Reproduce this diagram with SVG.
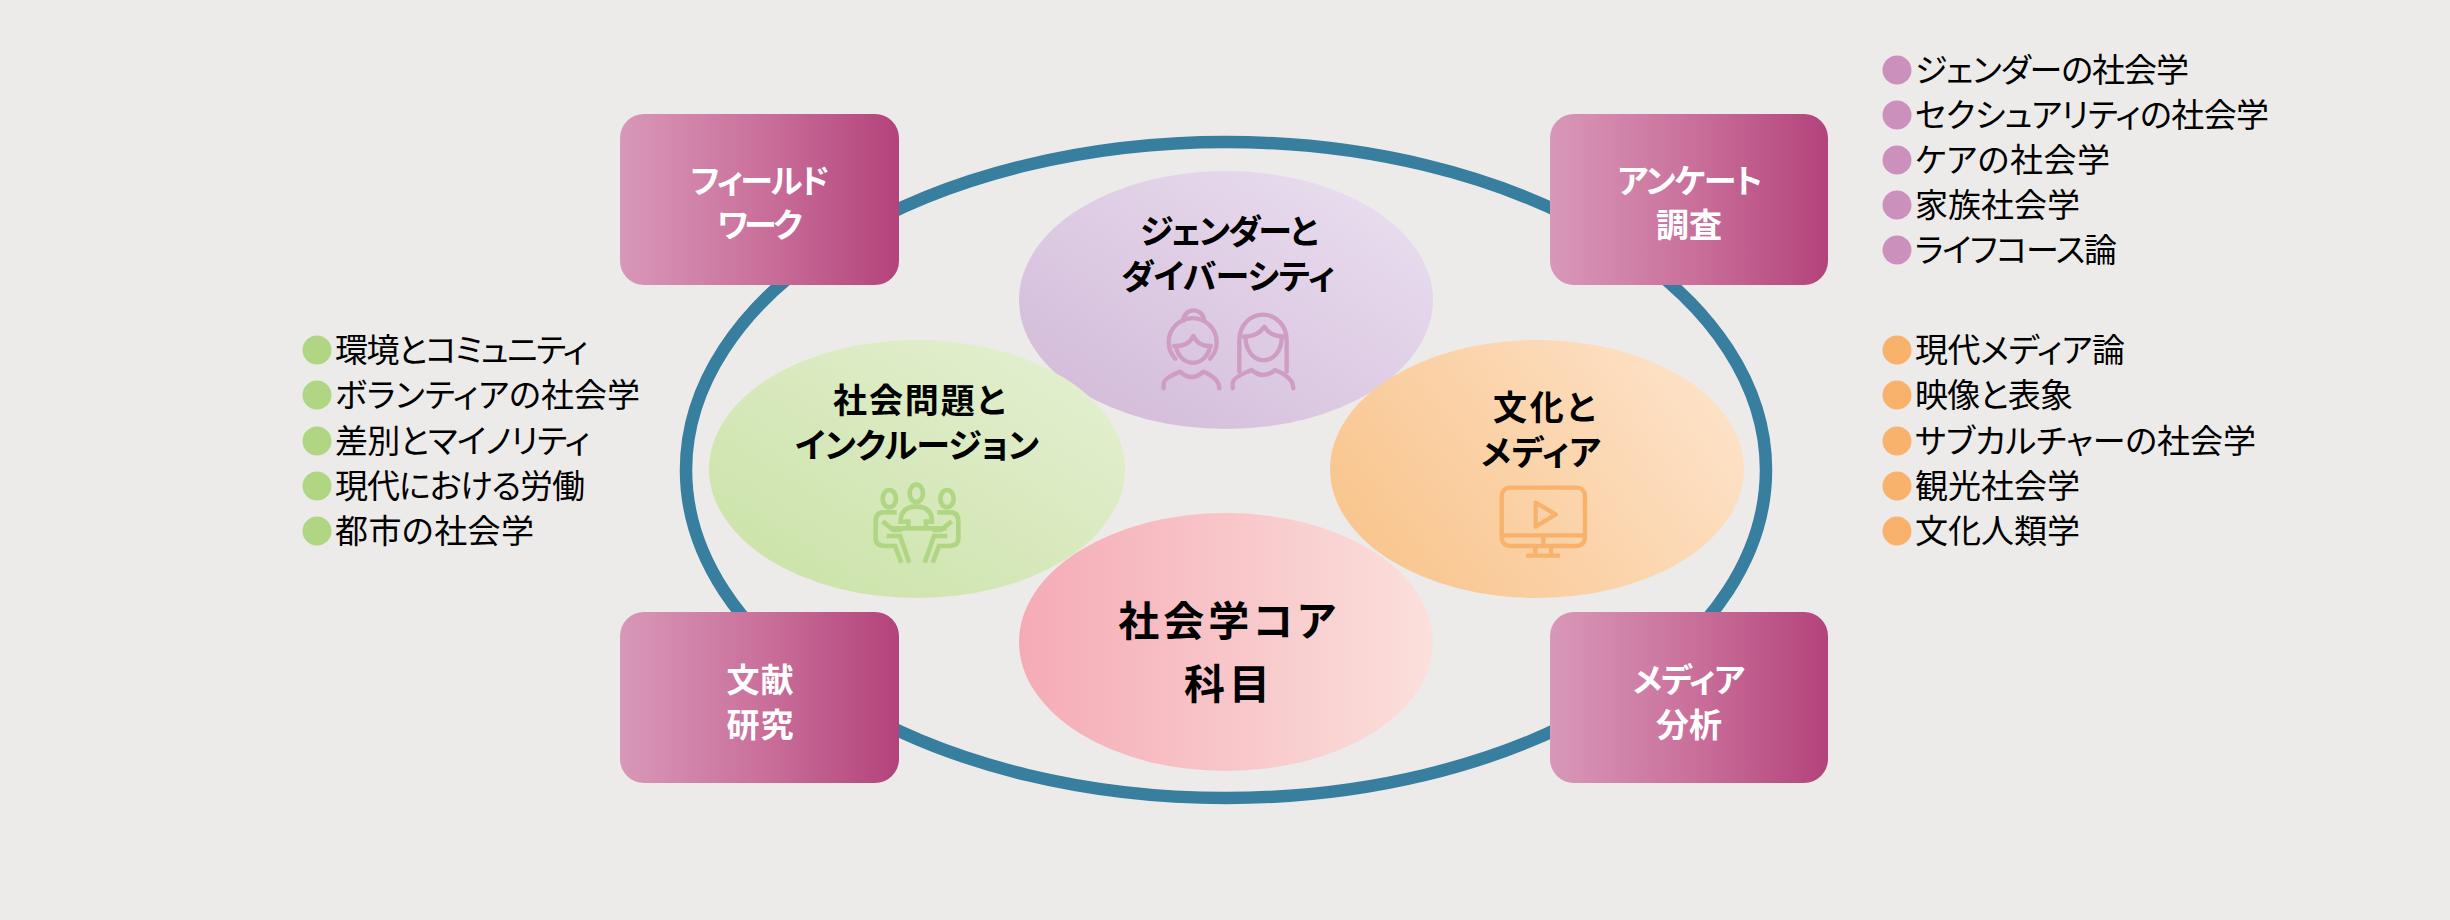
<svg xmlns="http://www.w3.org/2000/svg" width="2450" height="920" viewBox="0 0 2450 920">
<style>
text{font-family:"Noto Sans CJK JP","Noto Sans",sans-serif;font-feature-settings:"palt"}
.n{font-size:34px;font-weight:700;fill:#000;text-anchor:middle}
.c{font-size:41px;font-weight:700;fill:#000;text-anchor:middle;letter-spacing:4px}
.b{font-size:33px;font-weight:700;fill:#fff;text-anchor:middle}
.l{font-size:33px;font-weight:400;fill:#000}
.box{fill:url(#gb)}
.pu{fill:#cc90bd}.gr{fill:#b0d684}.or{fill:#f8b26b}
.ic{fill:none;stroke-width:13;stroke-linecap:round;stroke-linejoin:round}
</style>
<defs>
<linearGradient id="gb" x1="0" x2="1" y1="0" y2="0"><stop offset="0" stop-color="#d898b8"/><stop offset=".5" stop-color="#ca719b"/><stop offset="1" stop-color="#b3437b"/></linearGradient>
<linearGradient id="gt" x1="0.1" x2="0.9" y1="0.9" y2="0.1"><stop offset="0" stop-color="#d3bcd9"/><stop offset="1" stop-color="#e9ddef"/></linearGradient>
<linearGradient id="gl" x1="0.1" x2="0.9" y1="0.9" y2="0.1"><stop offset="0" stop-color="#cce3a9"/><stop offset="1" stop-color="#e3efd0"/></linearGradient>
<linearGradient id="gr" x1="0.05" x2="0.95" y1="0.7" y2="0.3"><stop offset="0" stop-color="#f9c68f"/><stop offset="1" stop-color="#fde1c6"/></linearGradient>
<linearGradient id="gc" x1="0" x2="1" y1="0" y2="0"><stop offset="0" stop-color="#f5abb6"/><stop offset="1" stop-color="#fbe0dc"/></linearGradient>
</defs>
<rect width="2450" height="920" fill="#ecebe9"/>
<g id="connectors"><ellipse cx="1226" cy="470" rx="540" ry="328" fill="none" stroke="#377e9f" stroke-width="12.500"/></g>
<g id="node-gender">
<ellipse cx="1226" cy="300" rx="207" ry="129" fill="url(#gt)"/>
<text class="n" x="1229" y="244" textLength="178">ジェンダーと</text><text class="n" x="1228" y="289" textLength="214">ダイバーシティ</text>
<g transform="translate(1100 200) scale(.3333)" class="ic" stroke="#cf9cc3">
<path d="M250 362A31 31 0 1 1 312 362"/>
<path d="M330 476A72 72 0 1 0 226 476"/>
<path d="M228 440A52 60 0 0 0 330 440"/>
<path d="M222 438Q265 440 280 408Q295 440 333 438"/>
<path d="M191 565V550Q191 535 240 515Q275 548 310 515Q358 535 358 565"/>
<path d="M418 515V420A71 76 0 0 1 560 420V515"/>
<path d="M437 415A54 66 0 0 0 545 415"/>
<path d="M430 410Q475 410 493 380Q510 410 555 410"/>
<path d="M398 565V550Q398 532 455 510Q490 540 525 510Q580 532 580 565"/>
</g></g>
<g id="node-society">
<ellipse cx="917" cy="469" rx="208" ry="129" fill="url(#gl)"/>
<text class="n" x="919" y="413" textLength="172">社会問題と</text><text class="n" x="917" y="458" textLength="244">インクルージョン</text>
<g transform="translate(840 450) scale(.3333)" fill="none" stroke="#b0d684" stroke-width="14">
<ellipse cx="148" cy="146" rx="20" ry="26"/><ellipse cx="229" cy="130" rx="20" ry="26"/><ellipse cx="321" cy="146" rx="20" ry="26"/>
<path d="M170 187H130Q107 187 107 215V265Q107 288 135 288H165L184 338"/>
<path d="M292 187H332Q355 187 355 215V265Q355 288 327 288H297L278 338"/>
<path d="M128 214L160 240H185"/><path d="M335 214L303 240H278"/>
<path d="M150 235H320"/>
<path d="M140 258H180L208 338"/><path d="M322 258H282L254 338"/>
<path d="M205 232V215H182Q182 170 229 170Q276 170 276 215H258V232"/>
</g></g>
<g id="node-culture">
<ellipse cx="1537" cy="469" rx="207" ry="129" fill="url(#gr)"/>
<text class="n" x="1544" y="420" textLength="102">文化と</text><text class="n" x="1541" y="465" textLength="120">メディア</text>
<g transform="translate(1440 460) scale(.3333)" fill="none" stroke="#f8b26b" stroke-width="13">
<rect x="185" y="83" width="250" height="175" rx="24"/>
<path d="M185 226H435M310 226V258M258 287H360M286 260V287M333 260V287"/>
<path d="M287 128L347 163L287 200Z" stroke-linejoin="round"/>
</g></g>
<g id="node-core">
<ellipse cx="1226" cy="642" rx="207" ry="129" fill="url(#gc)"/>
<text class="c" x="1229" y="636">社会学コア</text><text class="c" x="1229" y="699">科目</text>
</g>
<g id="box-field"><rect class="box" x="620" y="114" width="279" height="171" rx="24"/><text class="b" x="760" y="193" textLength="139">フィールド</text><text class="b" x="760" y="237" textLength="85">ワーク</text></g>
<g id="box-survey"><rect class="box" x="1550" y="114" width="278" height="171" rx="24"/><text class="b" x="1690" y="193" textLength="145">アンケート</text><text class="b" x="1689" y="237" textLength="66">調査</text></g>
<g id="box-literature"><rect class="box" x="620" y="612" width="279" height="171" rx="24"/><text class="b" x="760" y="692" textLength="67">文献</text><text class="b" x="760" y="737" textLength="67">研究</text></g>
<g id="box-media"><rect class="box" x="1550" y="612" width="278" height="171" rx="24"/><text class="b" x="1689" y="692" textLength="112">メディア</text><text class="b" x="1689" y="737" textLength="66">分析</text></g>
<g id="list-green">
<circle class="gr" cx="317" cy="350" r="14.500"/><text class="l" x="335" y="362" textLength="253">環境とコミュニティ</text>
<circle class="gr" cx="317" cy="395" r="14.500"/><text class="l" x="335" y="407" textLength="305">ボランティアの社会学</text>
<circle class="gr" cx="317" cy="441" r="14.500"/><text class="l" x="335" y="453" textLength="255">差別とマイノリティ</text>
<circle class="gr" cx="317" cy="486" r="14.500"/><text class="l" x="335" y="498" textLength="250">現代における労働</text>
<circle class="gr" cx="317" cy="531" r="14.500"/><text class="l" x="335" y="543" textLength="199">都市の社会学</text>
</g>
<g id="list-purple">
<circle class="pu" cx="1897" cy="70" r="14.500"/><text class="l" x="1915" y="82" textLength="274">ジェンダーの社会学</text>
<circle class="pu" cx="1897" cy="115" r="14.500"/><text class="l" x="1915" y="127" textLength="354">セクシュアリティの社会学</text>
<circle class="pu" cx="1897" cy="160" r="14.500"/><text class="l" x="1915" y="172" textLength="195">ケアの社会学</text>
<circle class="pu" cx="1897" cy="205" r="14.500"/><text class="l" x="1915" y="217" textLength="165">家族社会学</text>
<circle class="pu" cx="1897" cy="250" r="14.500"/><text class="l" x="1915" y="262" textLength="202">ライフコース論</text>
</g>
<g id="list-orange">
<circle class="or" cx="1897" cy="350" r="14.500"/><text class="l" x="1915" y="362" textLength="210">現代メディア論</text>
<circle class="or" cx="1897" cy="395" r="14.500"/><text class="l" x="1915" y="407" textLength="158">映像と表象</text>
<circle class="or" cx="1897" cy="441" r="14.500"/><text class="l" x="1915" y="453" textLength="341">サブカルチャーの社会学</text>
<circle class="or" cx="1897" cy="486" r="14.500"/><text class="l" x="1915" y="498" textLength="165">観光社会学</text>
<circle class="or" cx="1897" cy="531" r="14.500"/><text class="l" x="1915" y="543" textLength="165">文化人類学</text>
</g>
</svg>
